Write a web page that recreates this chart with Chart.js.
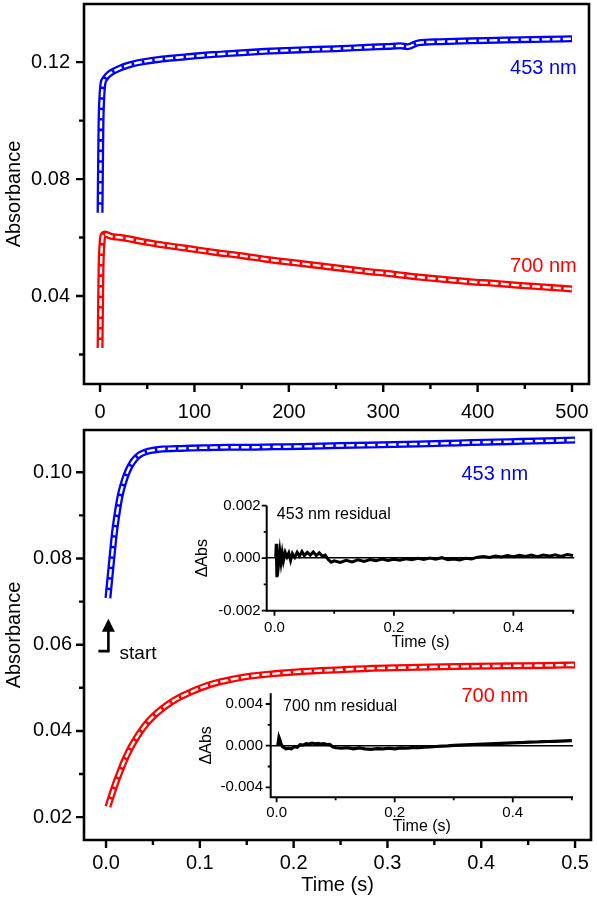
<!DOCTYPE html>
<html>
<head>
<meta charset="utf-8">
<script src="https://cdn.jsdelivr.net/npm/chart.js@4.4.1/dist/chart.umd.min.js"></script>
<style>
  html, body { margin: 0; padding: 0; background: #fff; }
  #wrap { position: relative; width: 597px; height: 900px; overflow: hidden; }
  #wrap canvas { position: absolute; }
</style>
</head>
<body>
<div id="wrap">
  <canvas id="top" width="597" height="430" style="left:0;top:0"></canvas>
  <canvas id="bottom" width="597" height="480" style="left:0;top:420px"></canvas>
  <canvas id="res453" width="407" height="160" style="left:190px;top:495px"></canvas>
  <canvas id="res700" width="407" height="165" style="left:190px;top:680px"></canvas>
</div>
<script>
// long scan, 0-500 s
const longTime = [0, 0.5, 1, 2, 3, 5, 8, 12, 20, 30, 45, 66, 90, 120, 150, 175, 211, 250, 283, 305, 318, 326, 337, 360, 392, 420, 446, 470, 500];
const blueLong = [0.0685, 0.0850, 0.0990, 0.1085, 0.1125, 0.1142, 0.1155, 0.1165, 0.1178, 0.1190, 0.1201, 0.1211, 0.1218, 0.1226, 0.1232, 0.1237, 0.1242, 0.1246, 0.1251, 0.1254, 0.1256, 0.1253, 0.1266, 0.1270, 0.1273, 0.1275, 0.1277, 0.1278, 0.1280];
const redLong = [0.0222, 0.0360, 0.0490, 0.0575, 0.0605, 0.0612, 0.0609, 0.0604, 0.0601, 0.0596, 0.0586, 0.0575, 0.0564, 0.0550, 0.0538, 0.0526, 0.0512, 0.0497, 0.0484, 0.0477, 0.0472, 0.0469, 0.0465, 0.0458, 0.0449, 0.0443, 0.0436, 0.0431, 0.0424];

// short scan, 0-0.5 s
const shortTime = [0.002, 0.004, 0.006, 0.009, 0.012, 0.015, 0.019, 0.023, 0.027, 0.031, 0.036, 0.042, 0.050, 0.060, 0.075, 0.090, 0.110, 0.130, 0.150, 0.180, 0.210, 0.250, 0.280, 0.320, 0.360, 0.390, 0.430, 0.470, 0.500];
const blueShort = [0.0708, 0.0752, 0.0796, 0.0860, 0.0907, 0.0945, 0.0978, 0.1002, 0.1019, 0.1031, 0.1041, 0.1047, 0.1051, 0.1054, 0.1055, 0.1056, 0.1057, 0.1058, 0.1058, 0.1059, 0.1060, 0.1062, 0.1063, 0.1065, 0.1067, 0.1069, 0.1071, 0.1073, 0.1075];
const redShort = [0.0224, 0.0238, 0.0251, 0.0271, 0.0289, 0.0306, 0.0328, 0.0347, 0.0364, 0.0379, 0.0396, 0.0414, 0.0433, 0.0452, 0.0474, 0.0490, 0.0507, 0.0518, 0.0526, 0.0533, 0.0538, 0.0542, 0.0545, 0.0547, 0.0549, 0.0550, 0.0551, 0.0552, 0.0553];

// fit residuals
const res453Time = [0.002, 0.003, 0.004, 0.005, 0.007, 0.009, 0.011, 0.013, 0.015, 0.018,
  0.021, 0.024, 0.027, 0.030, 0.034, 0.038, 0.042, 0.046, 0.050, 0.055,
  0.060, 0.065, 0.070, 0.075, 0.080, 0.085, 0.090, 0.095, 0.100, 0.110,
  0.120, 0.130, 0.140, 0.150, 0.160, 0.170, 0.180, 0.190, 0.200, 0.210,
  0.220, 0.230, 0.240, 0.250, 0.260, 0.270, 0.280, 0.290, 0.300, 0.310,
  0.320, 0.330, 0.340, 0.350, 0.360, 0.370, 0.380, 0.390, 0.400, 0.410,
  0.420, 0.430, 0.440, 0.450, 0.460, 0.470, 0.480, 0.490, 0.500];
const res453Value = [0.0000, 0.00055, -0.00072, 0.00020, -0.00020, 0.00025, -0.00015, 0.00020, -0.00010, 0.00022,
  0.00005, 0.00020, -0.00008, 0.00018, 0.00003, 0.00022, 0.00008, 0.00025, 0.00010, 0.00022,
  0.00012, 0.00024, 0.00010, 0.00020, 0.00008, 0.00012, -0.00005, -0.00015, -0.00010, -0.00016,
  -0.00008, -0.00014, -0.00006, -0.00012, -0.00005, -0.00010, -0.00003, -0.00009, -0.00004, -0.00008,
  -0.00002, -0.00006, 0.00000, -0.00005, 0.00001, -0.00004, 0.00002, -0.00006, -0.00003, -0.00007,
  0.00000, -0.00003, 0.00004, 0.00006, 0.00003, 0.00008, 0.00005, 0.00010, 0.00006, 0.00011,
  0.00007, 0.00012, 0.00006, 0.00012, 0.00008, 0.00013, 0.00007, 0.00014, 0.00010];

const res700Time = [0.002, 0.004, 0.006, 0.008, 0.010, 0.013, 0.016, 0.020, 0.025, 0.030,
  0.035, 0.040, 0.045, 0.050, 0.055, 0.060, 0.065, 0.070, 0.075, 0.080,
  0.085, 0.090, 0.095, 0.100, 0.110, 0.120, 0.130, 0.140, 0.150, 0.160,
  0.170, 0.180, 0.190, 0.200, 0.210, 0.220, 0.230, 0.240, 0.250, 0.260,
  0.270, 0.280, 0.290, 0.300, 0.310, 0.320, 0.330, 0.340, 0.350, 0.360,
  0.370, 0.380, 0.390, 0.400, 0.410, 0.420, 0.430, 0.440, 0.450, 0.460,
  0.470, 0.480, 0.490, 0.500];
const res700Value = [0.0000, 0.0008, 0.0005, 0.0001, -0.0001, -0.0002, -0.0003, -0.00025, -0.0003, -0.0001,
  -0.00015, 0.0001, 0.00005, 0.0002, 0.00015, 0.00025, 0.00018, 0.00022, 0.00015, 0.0002,
  0.0001, 0.00012, -0.0001, -0.0002, -0.00025, -0.0002, -0.0003, -0.00022, -0.0003, -0.00035,
  -0.00028, -0.0003, -0.00025, -0.0003, -0.00022, -0.00025, -0.00018, -0.0002, -0.00015, -0.00012,
  -0.00008, -0.00005, -0.00002, 0.00003, 0.00005, 0.00008, 0.0001, 0.00012, 0.00015, 0.00017,
  0.0002, 0.00022, 0.00025, 0.00027, 0.0003, 0.00031, 0.00034, 0.00035, 0.00038, 0.0004,
  0.00042, 0.00044, 0.00046, 0.00048];

const FONT = '"Liberation Sans", Arial, Helvetica, sans-serif';
const BLUE = "#0000ff";
const RED = "#ff0000";

Chart.defaults.font.family = FONT;
Chart.defaults.color = "#000";
Chart.defaults.animation = false;
Chart.defaults.plugins.legend.display = false;
Chart.defaults.plugins.tooltip.enabled = false;

function pairs(xs, ys) {
  return xs.map((x, i) => ({ x: x, y: ys[i] }));
}

function isMultiple(v, step) {
  const r = v / step;
  return Math.abs(r - Math.round(r)) < 1e-6;
}

function labelEvery(step, digits) {
  return (v) => (isMultiple(v, step) ? Number(v).toFixed(digits) : "");
}

// pin axis size and drop the automatic label overhang padding
function fixedAxis(size) {
  return function (scale) {
    if (scale.isHorizontal()) scale.height = size;
    else scale.width = size;
    scale.paddingLeft = 0;
    scale.paddingRight = 0;
    scale.paddingTop = 0;
    scale.paddingBottom = 0;
  };
}

// data band + white dashed fit on top
function traceSets(xs, ys, color) {
  return [
    { data: pairs(xs, ys), borderColor: "#fff", borderWidth: 2.4, borderDash: [8, 2.5], order: 0 },
    { data: pairs(xs, ys), borderColor: color, borderWidth: 7, order: 1 }
  ];
}

const frame = {
  id: "frame",
  afterDatasetsDraw(chart, args, o) {
    const { ctx, chartArea: a, scales } = chart;
    const x = scales.x;
    const y = scales.y;
    ctx.save();
    ctx.strokeStyle = "#000";
    ctx.lineWidth = o.width;
    ctx.beginPath();
    if (o.box) {
      ctx.rect(a.left, a.top, a.right - a.left, a.bottom - a.top);
    } else {
      ctx.moveTo(a.left, a.top);
      ctx.lineTo(a.left, a.bottom);
      ctx.lineTo(a.right, a.bottom);
    }
    ctx.stroke();
    ctx.lineWidth = o.tickWidth;
    ctx.beginPath();
    x.ticks.forEach((t) => {
      const px = x.getPixelForValue(t.value);
      ctx.moveTo(px, a.bottom);
      ctx.lineTo(px, a.bottom + (t.label ? o.major : o.minor));
    });
    y.ticks.forEach((t) => {
      const py = y.getPixelForValue(t.value);
      ctx.moveTo(a.left, py);
      ctx.lineTo(a.left - (t.label ? o.major : o.minor), py);
    });
    ctx.stroke();
    ctx.restore();
  }
};

const notes = {
  id: "notes",
  afterDraw(chart, args, o) {
    const { ctx, scales } = chart;
    ctx.save();
    ctx.textBaseline = "middle";
    (o.items || []).forEach((n) => {
      ctx.font = n.size + "px " + FONT;
      ctx.fillStyle = n.color;
      ctx.textAlign = n.align;
      ctx.fillText(n.text, scales.x.getPixelForValue(n.x), scales.y.getPixelForValue(n.y));
    });
    if (o.arrow) {
      const px = scales.x.getPixelForValue(o.arrow.x);
      const top = scales.y.getPixelForValue(o.arrow.top);
      const foot = scales.y.getPixelForValue(o.arrow.foot);
      ctx.strokeStyle = "#000";
      ctx.fillStyle = "#000";
      ctx.lineWidth = 2.6;
      ctx.beginPath();
      ctx.moveTo(px - 10, foot);
      ctx.lineTo(px, foot);
      ctx.lineTo(px, top + 8);
      ctx.stroke();
      ctx.beginPath();
      ctx.moveTo(px, top);
      ctx.lineTo(px - 6.5, top + 13);
      ctx.lineTo(px + 6.5, top + 13);
      ctx.closePath();
      ctx.fill();
    }
    ctx.restore();
  }
};

const noGrid = { display: false, drawTicks: false, tickLength: 0 };

function axis(cfg) {
  return {
    type: "linear",
    min: cfg.min,
    max: cfg.max,
    afterFit: fixedAxis(cfg.size),
    border: { display: false },
    grid: cfg.grid || noGrid,
    ticks: {
      stepSize: cfg.step,
      includeBounds: false,
      autoSkip: false,
      maxRotation: 0,
      padding: cfg.padding,
      font: { size: cfg.font },
      color: "#000",
      callback: labelEvery(cfg.every, cfg.digits)
    },
    title: cfg.title
      ? { display: true, text: cfg.title, font: { size: cfg.titleSize }, padding: cfg.titlePad, color: "#000" }
      : { display: false }
  };
}

const baseElements = {
  line: { cubicInterpolationMode: "monotone", fill: false },
  point: { radius: 0 }
};

new Chart(document.getElementById("top"), {
  type: "line",
  data: { datasets: traceSets(longTime, blueLong, BLUE).concat(traceSets(longTime, redLong, RED)) },
  options: {
    responsive: false,
    layout: { padding: { top: 4, right: 8, left: 0, bottom: 0 } },
    elements: baseElements,
    scales: {
      x: axis({ min: -17, max: 518, size: 46, step: 50, every: 100, digits: 0, padding: 16, font: 20 }),
      y: axis({ min: 0.0099, max: 0.1399, size: 84, step: 0.02, every: 0.04, digits: 2, padding: 14, font: 20,
        title: "Absorbance", titleSize: 20, titlePad: { top: 2, bottom: 0 } })
    },
    plugins: {
      frame: { box: true, width: 2.6, tickWidth: 2.4, major: 8, minor: 5 },
      notes: {
        items: [
          { text: "453 nm", x: 505, y: 0.1178, align: "right", color: BLUE, size: 20 },
          { text: "700 nm", x: 505, y: 0.0500, align: "right", color: RED, size: 20 }
        ]
      }
    }
  },
  plugins: [frame, notes]
});

new Chart(document.getElementById("bottom"), {
  type: "line",
  data: { datasets: traceSets(shortTime, blueShort, BLUE).concat(traceSets(shortTime, redShort, RED)) },
  options: {
    responsive: false,
    layout: { padding: { top: 10, right: 6, left: 0, bottom: 0 } },
    elements: baseElements,
    scales: {
      x: axis({ min: -0.0235, max: 0.517, size: 60, step: 0.05, every: 0.1, digits: 1, padding: 11, font: 20,
        title: "Time (s)", titleSize: 20, titlePad: { top: 0, bottom: 3 } }),
      y: axis({ min: 0.0147, max: 0.1098, size: 84, step: 0.01, every: 0.02, digits: 2, padding: 12, font: 20,
        title: "Absorbance", titleSize: 20, titlePad: { top: 2, bottom: 0 } })
    },
    plugins: {
      frame: { box: true, width: 2.6, tickWidth: 2.4, major: 8, minor: 5 },
      notes: {
        items: [
          { text: "453 nm", x: 0.45, y: 0.0994, align: "right", color: BLUE, size: 20 },
          { text: "700 nm", x: 0.45, y: 0.0479, align: "right", color: RED, size: 20 },
          { text: "start", x: 0.0144, y: 0.0578, align: "left", color: "#000", size: 19 }
        ],
        arrow: { x: 0.0025, top: 0.0660, foot: 0.0585 }
      }
    }
  },
  plugins: [frame, notes]
});

function zeroGrid() {
  return {
    display: true,
    drawTicks: false,
    tickLength: 0,
    drawOnChartArea: true,
    lineWidth: 1.6,
    color: (c) => (c.tick && Math.abs(c.tick.value) < 1e-9 ? "#000" : "rgba(0,0,0,0)")
  };
}

function insetChart(id, xs, ys, lineW, o) {
  return new Chart(document.getElementById(id), {
    type: "line",
    data: { datasets: [{ data: pairs(xs, ys), borderColor: "#000", borderWidth: lineW, tension: 0 }] },
    options: {
      responsive: false,
      layout: { padding: { top: o.padTop, right: o.padRight, left: 0, bottom: 0 } },
      elements: { point: { radius: 0 } },
      scales: {
        x: axis({ min: o.xMin, max: 0.502, size: o.xSize, step: 0.1, every: 0.2, digits: 1, padding: o.xPad, font: 15,
          title: "Time (s)", titleSize: 16, titlePad: { top: 0, bottom: o.xTitlePad } }),
        y: axis({ min: o.yMin, max: o.yMax, size: o.ySize, step: o.yStep, every: o.yEvery, digits: 3,
          padding: o.yPad, font: 15, title: "\u0394Abs", titleSize: 16, titlePad: { top: o.yTitlePad, bottom: 0 },
          grid: zeroGrid() })
      },
      plugins: {
        frame: { box: false, width: 2, tickWidth: 1.8, major: 5, minor: 3 },
        notes: { items: [{ text: o.label, x: o.labelX, y: o.labelY, align: "left", color: "#000", size: 16 }] }
      }
    },
    plugins: [frame, notes]
  });
}

insetChart("res453", res453Time, res453Value, 3, {
  padTop: 10.7, padRight: 22.7, xMin: -0.013, xSize: 44.3, xPad: 8, xTitlePad: 2.4,
  yMin: -0.002, yMax: 0.002, yStep: 0.001, yEvery: 0.002, ySize: 76.7, yPad: 6, yTitlePad: 3,
  label: "453 nm residual", labelX: 0.004, labelY: 0.00168
});

insetChart("res700", res700Time, res700Value, 3.2, {
  padTop: 13.3, padRight: 24, xMin: -0.01, xSize: 47.7, xPad: 6.5, xTitlePad: 8.7,
  yMin: -0.00496, yMax: 0.00503, yStep: 0.002, yEvery: 0.004, ySize: 80.7, yPad: 7.7, yTitlePad: 6.5,
  label: "700 nm residual", labelX: 0.011, labelY: 0.0038
});
</script>
</body>
</html>
